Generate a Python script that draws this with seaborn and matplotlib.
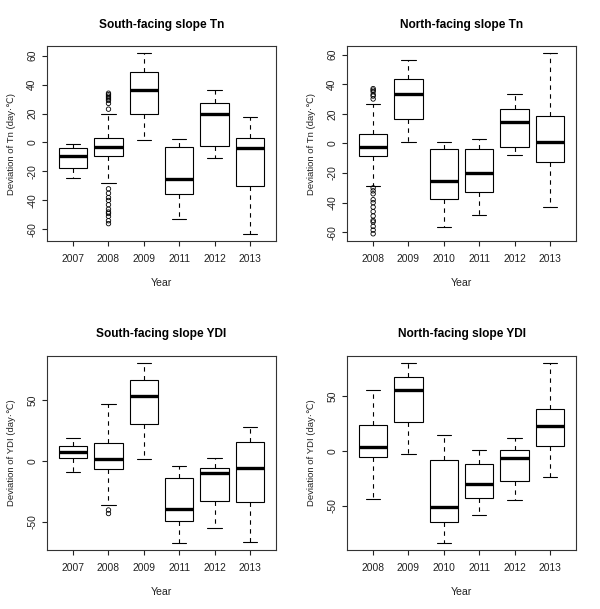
import numpy as np
import pandas as pd
import matplotlib
matplotlib.use("Agg")
import matplotlib.pyplot as plt
from matplotlib.ticker import MultipleLocator
import seaborn as sns

# ---------------- data ----------------
# South-facing slope Tn
s_tn_years = ["2007", "2008", "2009", "2011", "2012", "2013"]
s_tn_lo  = [-24.7, -27.7,  1.8, -53.0, -10.6, -63.0]
s_tn_q1  = [-17.3,  -9.5, 19.6, -35.3,  -2.3, -30.2]
s_tn_med = [ -9.0,  -3.0, 36.5, -25.2,  19.6,  -3.5]
s_tn_q3  = [ -3.7,   3.0, 48.5,  -3.2,  27.5,   2.8]
s_tn_hi  = [ -1.2,  19.6, 61.6,   2.3,  36.0,  17.5]
s_tn_out_year = ["2008"] * 19
s_tn_out_val = [23, 27, 29, 30, 31, 32, 33, 34,
                -32, -35, -38, -40, -43, -46, -48, -49, -51, -54, -56]

# North-facing slope Tn
n_tn_years = ["2008", "2009", "2010", "2011", "2012", "2013"]
n_tn_lo  = [-28.6,  1.1, -56.2, -48.3, -7.7, -42.6]
n_tn_q1  = [ -8.3, 16.5, -37.7, -32.9, -2.7, -12.6]
n_tn_med = [ -2.3, 33.4, -25.5, -20.1, 14.7,   0.7]
n_tn_q3  = [  6.5, 43.8,  -4.1,  -3.6, 23.0,  18.3]
n_tn_hi  = [ 26.4, 56.0,   1.1,   2.7, 33.4,  60.9]
n_tn_out_year = ["2008"] * 19
n_tn_out_val = [30, 32, 33, 35, 36, 37,
                -30, -32, -34, -38, -40, -43, -46, -49, -52, -53, -56, -58.5, -61]

# South-facing slope YDI
s_ydi_years = ["2007", "2008", "2009", "2011", "2012", "2013"]
s_ydi_lo  = [-9.3, -36.3,  1.6, -67.6, -55.2, -67.0]
s_ydi_q1  = [ 2.5,  -6.6, 30.8, -49.2, -33.0, -33.8]
s_ydi_med = [ 7.4,   1.4, 54.1, -39.3, -10.2,  -5.8]
s_ydi_q3  = [12.1,  14.8, 67.3, -14.3,  -6.0,  15.7]
s_ydi_hi  = [18.7,  47.0, 80.8,  -4.1,   2.7,  27.7]
s_ydi_out_year = ["2008", "2008"]
s_ydi_out_val = [-40.5, -43.4]

# North-facing slope YDI
n_ydi_years = ["2008", "2009", "2010", "2011", "2012", "2013"]
n_ydi_lo  = [-43.6, -2.4, -83.6, -57.9, -44.5, -23.9]
n_ydi_q1  = [ -5.5, 26.7, -64.8, -42.7, -27.0,   4.2]
n_ydi_med = [  3.9, 55.5, -51.2, -29.7,  -6.4,  22.4]
n_ydi_q3  = [ 23.3, 67.0,  -7.9, -12.1,   1.2,  38.2]
n_ydi_hi  = [ 55.2, 80.0,  14.2,   0.6,  11.5,  80.0]
n_ydi_out_year = []
n_ydi_out_val = []

titles = ["South-facing slope Tn", "North-facing slope Tn",
          "South-facing slope YDI", "North-facing slope YDI"]
ylabels = ["Deviation of Tn (day·℃)", "Deviation of Tn (day·℃)",
           "Deviation of YDI (day·℃)", "Deviation of YDI (day·℃)"]
xlabel = "Year"

panels = [
    (s_tn_years, s_tn_lo, s_tn_q1, s_tn_med, s_tn_q3, s_tn_hi, s_tn_out_year, s_tn_out_val, 20),
    (n_tn_years, n_tn_lo, n_tn_q1, n_tn_med, n_tn_q3, n_tn_hi, n_tn_out_year, n_tn_out_val, 20),
    (s_ydi_years, s_ydi_lo, s_ydi_q1, s_ydi_med, s_ydi_q3, s_ydi_hi, s_ydi_out_year, s_ydi_out_val, 50),
    (n_ydi_years, n_ydi_lo, n_ydi_q1, n_ydi_med, n_ydi_q3, n_ydi_hi, n_ydi_out_year, n_ydi_out_val, 50),
]

# ---------------- style ----------------
sns.set_style("ticks")
plt.rcParams["font.family"] = ["Liberation Sans", "DejaVu Sans"]
plt.rcParams["axes.unicode_minus"] = False
plt.rcParams["axes.edgecolor"] = "black"
plt.rcParams["axes.linewidth"] = 0.8
plt.rcParams["xtick.color"] = "black"
plt.rcParams["ytick.color"] = "black"
plt.rcParams["text.color"] = "#111111"

fig = plt.figure(figsize=(6.0, 6.09), dpi=100)
fig.patch.set_facecolor("white")

W, H = 600.0, 609.0
# axes frames in pixel coordinates (left, top, right, bottom)
frames = [(47, 46, 276, 241), (347, 46, 576, 241),
          (47, 356, 276, 550), (347, 356, 576, 550)]
title_y = [25, 25, 334, 334]

for i, (years, lo, q1, med, q3, hi, oy, ov, step) in enumerate(panels):
    l, t, r, b = frames[i]
    ax = fig.add_axes([l / W, 1 - b / H, (r - l) / W, (b - t) / H])

    rows = []
    for k, y in enumerate(years):
        for v in (lo[k], q1[k], med[k], q3[k], hi[k]):
            rows.append((y, v))
    df = pd.DataFrame(rows, columns=["year", "value"])

    sns.boxplot(data=df, x="year", y="value", order=years, ax=ax,
                whis=np.inf, width=0.8, color="white", linecolor="black",
                linewidth=0.8, fliersize=0,
                medianprops=dict(linewidth=2.4, color="black"),
                whiskerprops=dict(linestyle=(0, (4, 4)), linewidth=0.8),
                capprops=dict(linewidth=0.8))

    if len(ov) > 0:
        odf = pd.DataFrame({"year": oy, "value": ov})
        sns.stripplot(data=odf, x="year", y="value", order=years, ax=ax,
                      jitter=False, size=3.2, color="black",
                      facecolor="none", edgecolor="black", linewidth=0.6,
                      zorder=4)

    allv = list(lo) + list(hi) + list(ov)
    vmin, vmax = min(allv), max(allv)
    pad = 0.04 * (vmax - vmin)
    ax.set_ylim(vmin - pad, vmax + pad)
    n = len(years)
    ax.set_xlim(-0.5 - 0.04 * n, n - 0.5 + 0.04 * n)
    ax.yaxis.set_major_locator(MultipleLocator(step))

    for side in ["top", "right", "left", "bottom"]:
        ax.spines[side].set_visible(True)
        ax.spines[side].set_color("#333333")
        ax.spines[side].set_linewidth(0.8)

    ax.tick_params(axis="both", direction="out", length=3.6, width=0.8,
                   labelsize=7.4, colors="#222222")
    ax.tick_params(axis="x", pad=6.0)
    ax.tick_params(axis="y", pad=3.5)
    for lab in ax.get_yticklabels():
        lab.set_rotation(90)
        lab.set_va("center")

    ax.set_xlabel(xlabel, fontsize=7.6, labelpad=10, color="#222222")
    ax.set_ylabel(ylabels[i], fontsize=6.8, labelpad=8, color="#222222")

    fig.text((l + r) / 2 / W, 1 - title_y[i] / H, titles[i],
             ha="center", va="center", fontsize=8.6, fontweight="bold",
             color="black")

fig.savefig("out.png", dpi=100, facecolor="white")
